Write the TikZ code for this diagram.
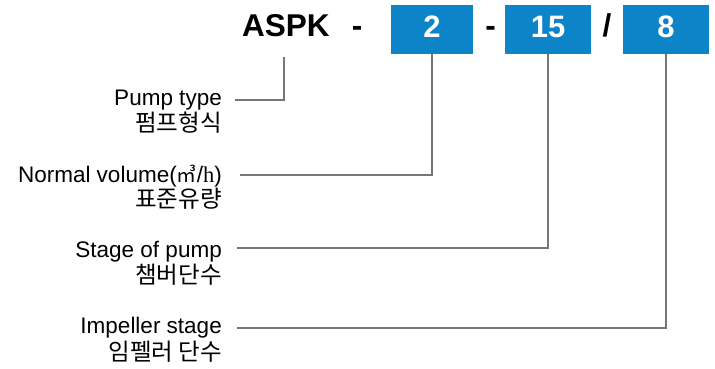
\documentclass[tikz,border=0pt]{standalone}
\usepackage{fontspec}
\setmainfont{Liberation Sans}
\newfontfamily\kor{Noto Sans CJK KR}
\newfontfamily\serifA{Liberation Serif}
\definecolor{boxblue}{RGB}{12,132,199}
\definecolor{leadgray}{RGB}{118,118,118}
\begin{document}
\begin{tikzpicture}[x=1pt,y=-1pt,
  lbl/.style={font=\fontsize{22.5}{27}\selectfont, inner sep=0pt, anchor=base east},
  kr/.style={font=\kor\fontsize{23.5}{28}\selectfont, inner sep=0pt, anchor=base east},
  code/.style={font=\bfseries\fontsize{31.5}{36}\selectfont, inner sep=0pt, anchor=base},
  numbox/.style={fill=boxblue, text=white, font=\bfseries\fontsize{31}{36}\selectfont,
    inner sep=0pt, anchor=base, text height=33pt, text depth=16pt},
  lead/.style={draw=leadgray, line width=1.4pt}]
\useasboundingbox (0,0) rectangle (715,369);
\fill[white] (0,0) rectangle (715,369);
% code row
\node[code, anchor=base west] (aspk) at (242,37) {ASPK};
\node[code] (d1) at (357,37) {-};
\node[numbox, minimum width=82pt] (b2) at (432,38) {2};
\node[code] (d2) at (490.5,37) {-};
\node[numbox, minimum width=86pt] (b15) at (548,38) {15};
\node[code] (sl) at (607,37) {/};
\node[numbox, minimum width=86pt] (b8) at (666,38) {8};
% labels
\node[lbl] (e1) at (222,106) {Pump type};
\node[kr]  (k1) at (222,131) {펌프형식};
\node[lbl] (e2) at (222,182) {Normal volume({\kor\fontsize{20}{24}\selectfont ㎥}/{\serifA h})};
\node[kr]  (k2) at (222,207) {표준유량};
\node[lbl] (e3) at (222,257) {Stage of pump};
\node[kr]  (k3) at (222,283) {챔버단수};
\node[lbl] (e4) at (222,333) {Impeller stage};
\node[kr]  (k4) at (222,360) {임펠러 단수};
% leader lines
\coordinate (a1) at (284,57);
\coordinate (p1) at (235,100);
\coordinate (p2) at (240,175);
\coordinate (p3) at (237,248);
\coordinate (p4) at (237,328);
\draw[lead] (a1) |- (p1);
\draw[lead] (b2.south) |- (p2);
\draw[lead] (b15.south) |- (p3);
\draw[lead] (b8.south) |- (p4);
\end{tikzpicture}
\end{document}
